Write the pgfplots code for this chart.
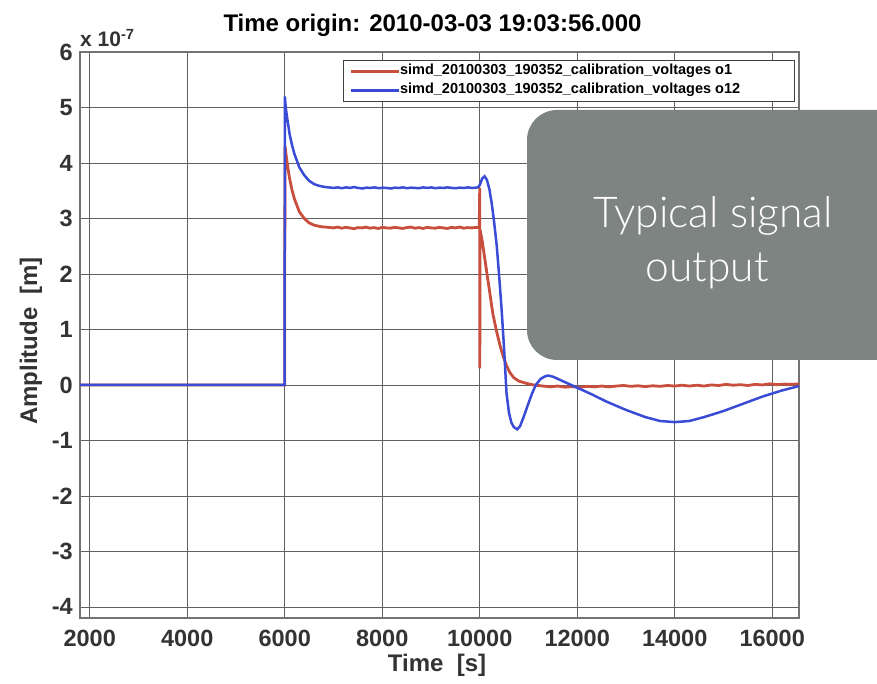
\documentclass[border=0pt]{standalone}
\usepackage{pgfplots}
\pgfplotsset{compat=1.18}
\usepackage{fontspec}
\setmainfont{Liberation Sans}
\newfontfamily\lato{Lato Light}
\definecolor{redline}{HTML}{C84E3E}
\definecolor{blueline}{HTML}{3A4CD6}
\definecolor{boxgray}{HTML}{7E8481}
\definecolor{ticktext}{HTML}{333333}
\begin{document}
\begin{tikzpicture}
\useasboundingbox (-80pt,-66pt) rectangle (797pt,618pt);
\begin{axis}[
  at={(0pt,0pt)}, anchor=south west,
  scale only axis, width=719pt, height=566pt,
  xmin=1800, xmax=16550, ymin=-4.2, ymax=6,
  scaled x ticks=false, scaled y ticks=false,
  xtick={2000,4000,6000,8000,10000,12000,14000,16000},
  xticklabels={2000,4000,6000,8000,10000,12000,14000,16000},
  ytick={-4,-3,-2,-1,0,1,2,3,4,5,6},
  yticklabels={-4,-3,-2,-1,0,1,2,3,4,5,6},
  grid=major,
  major grid style={draw=black!62, line width=0.7pt},
  axis line style={draw=black!55, line width=1.2pt},
  tick style={draw=none},
  ticklabel style={font=\fontsize{23.5}{26}\selectfont\bfseries, text=ticktext},
  xticklabel style={anchor=north, inner sep=0pt, yshift=-11pt, text height=17pt, text depth=0pt},
  yticklabel style={anchor=east, inner sep=0pt, xshift=-7pt},
  legend style={at={(axis description cs:0.9944,0.9859)}, anchor=north east,
    draw=black!75, line width=0.8pt, fill=white, inner sep=1.5pt, row sep=0pt,
    font=\fontsize{14.5}{16}\selectfont\bfseries,
    nodes={inner xsep=0pt, inner ysep=3pt, text height=10pt, text depth=3pt}},
  legend cell align=left,
  legend image code/.code={\path[draw=none,fill=none] (0pt,-7pt) rectangle (54pt,7pt); \draw[#1] (6pt,0pt) -- (54pt,0pt);},
]
\addplot[redline, line width=2.8pt] coordinates {
(1800,0) (5999,0) (6000,2.28) (6002,2.66) (6006,4.30) (6050,4.00) (6100,3.72) (6150,3.51)
(6200,3.35) (6300,3.12) (6400,3.00) (6500,2.92) (6600,2.88) (6750,2.85) (6900,2.84)
(7000,2.83) (7080,2.845) (7170,2.825) (7250,2.84) (7330,2.83) (7420,2.815) (7500,2.835)
(7590,2.83) (7660,2.845) (7750,2.825) (7830,2.835) (7920,2.82) (8000,2.84) (8090,2.83)
(8170,2.825) (8250,2.84) (8340,2.83) (8420,2.82) (8500,2.835) (8590,2.845) (8670,2.825)
(8760,2.835) (8840,2.82) (8920,2.84) (9000,2.83) (9090,2.825) (9170,2.84) (9250,2.83)
(9340,2.82) (9420,2.84) (9500,2.83) (9590,2.845) (9670,2.825) (9750,2.835) (9840,2.83)
(9920,2.84) (9990,2.835) (10000,3.55) (10002,0.30) (10006,2.80)
(10050,2.60) (10100,2.30) (10150,2.00) (10200,1.70) (10270,1.28) (10350,0.95)
(10420,0.70) (10480,0.52) (10550,0.35) (10620,0.22) (10700,0.13) (10800,0.07)
(10950,0.03) (11100,0.00) (11300,-0.02) (11450,-0.035) (11600,-0.02) (11750,-0.04)
(11900,-0.03) (12050,-0.045) (12200,-0.025) (12350,-0.035) (12500,-0.02) (12650,-0.035)
(12800,-0.02) (12950,-0.01) (13100,-0.025) (13250,-0.015) (13400,-0.03) (13550,-0.015)
(13700,-0.025) (13850,-0.01) (14000,-0.02) (14150,-0.005) (14300,-0.02) (14450,-0.005)
(14600,-0.02) (14750,0.00) (14900,-0.01) (15050,0.01) (15200,-0.005) (15350,0.005)
(15500,-0.01) (15650,0.01) (15800,0.00) (15950,0.02) (16100,0.005) (16250,0.015)
(16400,0.01) (16550,0.02)
};
\addlegendentry{\makebox[393pt][l]{simd\_20100303\_190352\_calibration\_voltages o1}}
\addplot[blueline, line width=2.5pt] coordinates {
(1800,0) (5998,0) (6003,5.20) (6020,5.00) (6060,4.75) (6100,4.52) (6150,4.32)
(6200,4.16) (6300,3.92) (6400,3.78) (6500,3.68) (6600,3.62) (6700,3.59) (6800,3.57)
(6900,3.56) (7000,3.55) (7090,3.56) (7170,3.545) (7260,3.56) (7340,3.55) (7420,3.565)
(7510,3.55) (7590,3.54) (7680,3.555) (7760,3.55) (7840,3.56) (7930,3.545) (8010,3.555)
(8090,3.55) (8180,3.54) (8260,3.555) (8340,3.55) (8430,3.56) (8510,3.545) (8590,3.555)
(8680,3.55) (8760,3.545) (8840,3.56) (8930,3.55) (9010,3.56) (9090,3.545) (9180,3.555)
(9260,3.55) (9340,3.56) (9430,3.55) (9510,3.545) (9590,3.555) (9680,3.55) (9760,3.56)
(9840,3.55) (9920,3.555) (9960,3.56) (10000,3.60) (10050,3.72)
(10100,3.76) (10150,3.69) (10200,3.52) (10250,3.25) (10300,2.90) (10350,2.50)
(10400,1.95) (10450,1.35) (10500,0.65) (10550,-0.15) (10600,-0.50) (10650,-0.68)
(10700,-0.76) (10770,-0.80) (10830,-0.74) (10900,-0.58) (11000,-0.33) (11071,-0.16)
(11150,0.00) (11250,0.11) (11330,0.15) (11400,0.17) (11500,0.15) (11650,0.09)
(11800,0.03) (12000,-0.05) (12300,-0.17) (12600,-0.30) (13000,-0.45) (13400,-0.58)
(13700,-0.65) (14000,-0.67) (14300,-0.65) (14600,-0.58) (15000,-0.47) (15400,-0.34)
(15800,-0.21) (16200,-0.10) (16550,-0.02)
};
\addlegendentry{\makebox[393pt][l]{simd\_20100303\_190352\_calibration\_voltages o12}}
\end{axis}
\node[anchor=base, font=\fontsize{24}{28}\selectfont\bfseries] at (352.5pt,586pt) {Time origin: 2010-03-03 19:03:56.000};
\node[anchor=base west, font=\fontsize{21}{24}\selectfont\bfseries, text=ticktext, inner sep=0pt] at (0pt,571pt) {x 10\textsuperscript{-7}};
\node[anchor=base, font=\fontsize{24}{28}\selectfont\bfseries, text=ticktext] at (357pt,-54pt) {Time\ \ [s]};
\node[rotate=90, font=\fontsize{24}{28}\selectfont\bfseries, text=ticktext] at (-49pt,277pt) {Amplitude\ \ [m]};
\fill[boxgray, rounded corners=30pt] (447pt,258pt) rectangle (840pt,508pt);
\node[anchor=base, text=white, font=\lato\fontsize{42.5}{48}\selectfont] at (633pt,390pt) {Typical signal};
\node[anchor=base, text=white, font=\lato\fontsize{42.5}{48}\selectfont] at (627pt,336pt) {output};
\end{tikzpicture}
\end{document}
